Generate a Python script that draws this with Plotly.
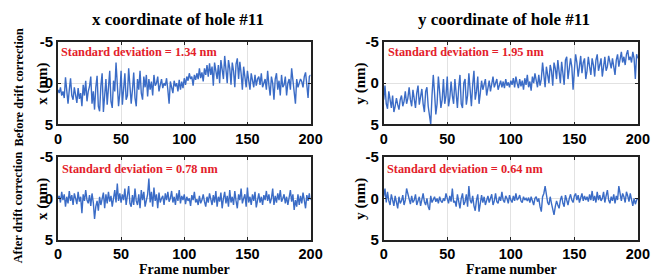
import plotly.graph_objects as go

frames = list(range(201))

x_before = [
 0.8, 1.2, 0.5, 1.5, 1.0, 1.8, -0.7, 1.2, 2.5, 0.8,
 -0.6, 1.5, 2.0, 0.5, 1.8, 2.4, 0.6, 1.9, 1.2, 2.8,
 0.2, 1.5, -0.3, 2.2, 1.0, 0.4, -0.8, 2.5, 1.0, 3.2,
 0.5, -0.9, 2.8, 3.4, 0.3, -1.2, 3.5, 1.8, -0.5, 2.6,
 0.8, -1.5, 2.2, 3.0, -0.3, 1.0, -2.5, 0.2, 2.8, 1.2,
 -1.5, 2.6, 0.5, -1.2, 2.0, 1.5, -1.8, 0.3, 2.5, 0.8,
 -1.3, 1.8, 2.8, -0.5, 0.8, -1.5, 1.2, 2.0, -0.8, 0.5,
 -1.0, 1.6, -0.5, 0.8, -0.2, 1.5, -1.0, 0.3, 0.0, -0.8,
 1.0, 0.2, -0.5, 0.6, 0.0, 0.3, -0.6, 0.8, 2.5, -0.2,
 0.5, 1.2, -0.3, 0.4, 0.0, 1.0, -0.4, 0.8, -0.2, 0.6,
 -0.6, 0.2, -0.8, -0.3, -1.2, -0.5, -0.8, 0.3, -1.0, -0.4,
 -1.2, -0.5, -1.8, -0.6, -1.3, -0.2, -1.8, -1.0, -2.2, -0.8,
 -2.4, -1.0, -2.0, 0.3, -2.5, -1.5, -0.5, -2.2, 0.0, -2.8,
 -1.5, -0.5, -3.3, -1.0, 0.0, -2.8, -1.8, 0.2, -2.5, -1.5,
 0.5, -2.3, -3.0, -0.5, -2.6, -1.2, 0.8, -2.0, -0.8, 0.5,
 -1.5, -0.2, 0.8, -1.2, -0.3, 0.5, -1.0, 0.3, -0.5, -0.8,
 0.2, -1.2, 0.5, 0.0, -0.5, 0.8, -1.5, 0.2, 1.5, -0.8,
 0.0, 2.0, -0.5, -1.2, 0.8, -0.3, 1.5, -1.0, 0.5, 0.2,
 -0.8, 1.5, 0.0, -0.5, 0.8, -1.8, -0.2, 1.2, 2.5, -0.5,
 0.5, 0.0, -0.5, -0.2, 0.5, -0.8, -1.3, 0.2, 1.8, -0.8,
 -1.0]

y_before = [
 2.0, 0.3, 2.5, 3.1, 1.0, 2.2, 3.0, 1.5, 3.5, 2.8,
 1.8, 2.6, 3.2, 2.0, 1.5, 2.8, 2.2, 1.0, 2.5, 1.8,
 0.5, 2.0, 2.8, 0.8, 2.2, 3.0, 1.2, 0.3, 2.6, 1.8,
 0.7, 2.5, 3.5, 1.0, 0.5, 2.8, 3.8, 5.0, 1.5, -1.0,
 1.2, 3.8, 2.5, -0.8, 1.0, 3.0, 2.0, -0.5, 2.5, 1.5,
 -0.8, 2.8, 1.8, -0.2, 1.5, 2.5, -0.5, 1.0, 3.0, 0.5,
 -1.0, 2.5, 3.0, 0.0, -0.5, 2.6, 1.5, -1.2, 1.0, 2.8,
 0.2, -1.5, 2.0, 1.0, -0.8, 2.5, 1.2, -0.3, 0.8, 0.2,
 -0.5, 1.5, 0.5, -0.3, 1.0, 0.2, -0.8, 0.5, 0.0, -0.5,
 0.8, 0.2, -0.3, 0.5, -0.2, 0.6, -0.5, 0.3, -0.1, 0.5,
 -0.3, 0.2, -0.6, 0.5, -0.8, 0.0, 0.6, -0.5, 0.4, -0.3,
 0.8, -0.6, 0.2, -1.0, 0.5, -0.2, 0.9, -0.8, 0.0, -1.2,
 -0.5, 0.5, -1.0, 0.3, -0.5, -2.5, -1.0, 0.5, -2.0, -1.2,
 0.0, -2.2, -1.5, 0.3, -2.5, -1.8, -0.5, -2.8, -1.2, 0.0,
 -2.6, -1.5, 0.2, -2.8, -3.2, -0.5, -1.5, -3.0, -2.0, 0.8,
 -1.5, -3.5, -2.5, -0.8, -2.0, -3.3, -1.2, -2.5, -3.0, -0.5,
 -1.5, -3.2, -2.0, -1.0, -3.0, -2.2, -0.8, -2.8, -3.5, -1.5,
 -2.2, -3.0, -0.8, -2.5, -3.2, -1.5, -2.0, -3.3, -2.5, -1.8,
 -3.0, -2.2, -1.0, -2.8, -3.5, -2.0, -3.0, -3.8, -2.5, -3.2,
 -2.2, -3.5, -4.0, -2.8, -3.2, -2.5, -3.8, -3.0, -0.5, -3.5,
 -3.0]

x_after = [
 0.0, -0.3, 0.5, -0.8, 0.2, -0.5, 1.0, -0.2, 0.6, -0.9,
 0.3, -0.4, 0.8, -0.6, 0.0, 0.7, -0.8, 0.4, -0.2, 1.8,
 -0.5, 0.3, -1.0, 0.2, 0.6, -0.4, 0.9, -0.6, 0.5, 2.5,
 1.0, 0.3, 1.5, -0.2, 0.8, 0.0, -0.7, 1.2, -0.5, 0.6,
 -0.8, 0.4, -0.3, 1.0, 0.2, -1.0, 0.5, -1.8, 0.3, -0.6,
 0.5, -0.5, 0.2, -1.2, 0.8, -0.2, -1.5, 0.6, 1.0, -0.4,
 0.8, -1.2, 0.3, 0.8, -0.5, 1.2, -1.0, 0.2, -0.8, 1.0,
 0.0, -0.5, -2.4, 0.5, -0.8, 1.0, -1.3, 0.3, -0.5, 1.2,
 -0.7, 0.5, 0.0, -0.3, 0.8, -0.6, 0.2, -0.8, 0.4, 0.0,
 -0.9, 0.5, -0.2, 0.8, -0.6, 0.3, -1.0, 0.6, -0.3, 0.2,
 -0.5, 0.7, -0.2, 0.3, 0.0, 0.9, -0.4, 0.2, -0.8, 0.5,
 0.1, 0.8, -0.3, 0.6, 0.2, -0.5, 0.4, 1.0, -0.2, 0.5,
 -0.6, 0.3, 0.8, -0.4, 0.5, -0.9, 1.0, -0.2, 0.4, -0.7,
 1.2, 0.0, -0.8, 0.6, -0.3, 1.0, -1.0, 0.5, -0.2, 0.8,
 -0.9, 0.3, 1.2, -0.5, 0.2, -1.2, 0.6, 0.0, -0.5, 1.0,
 -1.3, 0.5, -0.2, 0.8, -0.5, 0.3, -0.8, 1.1, 0.0, -0.6,
 0.5, -0.2, 0.8, -0.4, 0.2, -0.9, 0.3, -0.5, 0.6, 0.0,
 -1.2, 0.8, -0.3, 0.5, -0.6, 0.2, -1.0, 0.4, 0.0, -0.5,
 0.6, -0.2, 0.8, -0.3, -1.0, 0.4, -0.5, 1.4, 0.2, 1.0,
 -0.5, 0.8, -0.3, 0.6, -0.7, 0.2, 1.2, -0.4, 0.3, -0.6,
 0.2]

y_after = [
 -0.2, -1.2, 0.5, -0.8, 0.3, 0.8, -0.5, 0.2, 0.9, -0.3,
 0.5, 1.2, -0.2, 0.6, 0.3, -0.4, 0.8, 0.2, -1.2, -0.5,
 0.0, 0.7, -0.3, 0.5, 0.2, -0.5, 0.8, 0.3, -0.2, 0.9,
 0.0, -0.6, 0.4, 0.8, 0.0, 1.0, 1.4, -0.3, 0.5, 0.2,
 -0.2, 0.4, 0.0, 0.6, -0.2, 0.3, 0.5, 0.0, 0.3, -0.6,
 0.2, 0.6, -0.3, 0.4, -1.2, 0.5, 0.3, 1.0, -0.5, 0.4,
 1.2, 0.0, -0.6, 0.8, 0.4, -0.5, 1.0, -1.5, 0.2, 0.6,
 -0.3, 0.9, 1.5, 0.2, -0.5, 1.6, 0.4, -0.4, 0.5, -0.2,
 0.8, 0.2, -0.3, 0.5, 0.0, -0.5, 0.8, 0.3, -0.6, 0.4,
 0.6, -0.2, 0.3, -0.8, 0.2, 0.5, -0.3, 0.0, 0.6, -0.4,
 0.2, 0.5, -0.3, 0.3, -0.6, 0.2, 0.0, -0.4, 0.3, 0.5,
 -0.2, 0.2, 0.0, 0.3, -0.1, 0.5, -0.2, 0.3, 0.8, 0.0,
 -0.2, 0.4, 0.0, 1.0, 1.6, -0.2, -0.6, -1.5, -0.3, 0.5,
 0.8, -0.2, 0.6, 1.2, 2.0, 1.0, 0.3, 0.8, 1.2, 0.2,
 -0.3, 0.6, 1.0, -0.4, 0.3, 0.8, 0.0, -0.5, 0.2, 0.5,
 -0.3, -0.6, 0.2, -0.4, 0.5, -0.2, -0.6, 0.3, -0.3, 0.2,
 -0.2, 0.4, -0.5, 0.2, -0.9, 0.3, -0.3, 0.5, -0.8, 0.2,
 -0.4, 0.3, 0.0, -0.8, 0.5, -0.3, -1.0, 0.2, 0.6, -0.2,
 0.3, -0.5, 0.6, -0.3, 0.2, -1.5, -0.8, 0.3, -0.6, -0.2,
 0.5, -0.8, -0.3, 0.4, -0.6, 0.2, 0.9, 0.0, 0.7, 0.2,
 0.0]

col_titles = ["x coordinate of hole #11", "y coordinate of hole #11"]
std_labels = ["Standard deviation = 1.34 nm", "Standard deviation = 1.95 nm",
              "Standard deviation = 0.78 nm", "Standard deviation = 0.64 nm"]
row_labels = ["Before drift correction", "After drift correction"]
axis_units = ["x (nm)", "y (nm)"]
x_ticks = [0, 50, 100, 150, 200]
y_ticks = [-5, 0, 5]

SERIF = "Liberation Serif"
SANS = "Liberation Sans"
LINE = "#3b6cc6"

# measured relation between figure pixels and the photographed picture
AX, BX = 0.981, 2.8
AY, BY = 0.935, 8.8
W, H = 664, 288


def fx(t):  # target picture x -> paper x
    return ((t - BX) / AX) / W


def fy(t):  # target picture y -> paper y
    return 1 - ((t - BY) / AY) / H


xdom = [[fx(57), fx(311)], [fx(384.5), fx(640)]]
ydom = [[fy(123.5), fy(41.5)], [fy(238), fy(156)]]
std_pos = [(58.5, 51.5), (386.5, 51.5), (59, 167.3), (386, 167.3)]
unit_x = [41.5, 361]
title_pos = [(177.5, 19), (505.5, 19)]
frame_pos = [(184, 268), (513, 268)]
row_pos = [86, 206]

series = [[x_before, y_before], [x_after, y_after]]

fig = go.Figure()
annotations = []
k = 0
for r in range(2):
    for c in range(2):
        k += 1
        xa = "x" if k == 1 else f"x{k}"
        ya = "y" if k == 1 else f"y{k}"
        fig.add_trace(go.Scatter(x=frames, y=series[r][c], mode="lines",
                                 line=dict(color=LINE, width=1.4),
                                 xaxis=xa, yaxis=ya, showlegend=False,
                                 hoverinfo="skip"))
        axcommon = dict(showline=True, linecolor="#222222", linewidth=1.5,
                        mirror="ticks", ticks="inside", ticklen=3,
                        tickcolor="#222222", showgrid=True,
                        gridcolor="#e2e2e2", gridwidth=1, zeroline=False)
        fig.layout[f"xaxis{'' if k == 1 else k}"] = dict(
            axcommon, domain=xdom[c], anchor=ya, range=[0, 200],
            tickvals=x_ticks, ticktext=[str(v) for v in x_ticks],
            tickfont=dict(family=SANS, size=14.5, color="black",
                          weight="bold"))
        fig.layout[f"yaxis{'' if k == 1 else k}"] = dict(
            axcommon, domain=ydom[r], anchor=xa, range=[5, -5],
            tickvals=y_ticks, ticktext=[str(v) for v in y_ticks],
            tickfont=dict(family=SANS, size=15, color="black",
                          weight="bold"))
        sx, sy = std_pos[k - 1]
        annotations.append(dict(
            text=std_labels[k - 1], xref="paper", yref="paper",
            x=fx(sx), y=fy(sy), xanchor="left", yanchor="middle",
            showarrow=False,
            font=dict(family=SERIF, size=12.3, color="#e3202a", weight="bold")))
        annotations.append(dict(
            text=axis_units[c], xref="paper", yref="paper",
            x=fx(unit_x[c]), y=(ydom[r][0] + ydom[r][1]) / 2,
            xanchor="center", yanchor="middle",
            textangle=-90, showarrow=False,
            font=dict(family=SERIF, size=15, color="black", weight="bold")))
    annotations.append(dict(
        text=row_labels[r], xref="paper", yref="paper",
        x=fx(17.7), y=fy(row_pos[r]),
        xanchor="center", yanchor="middle",
        textangle=-90, showarrow=False,
        font=dict(family=SERIF, size=12.3, color="black", weight="bold")))

for c in range(2):
    tx, ty = title_pos[c]
    annotations.append(dict(
        text=col_titles[c], xref="paper", yref="paper",
        x=fx(tx), y=fy(ty), xanchor="center", yanchor="middle",
        showarrow=False,
        font=dict(family=SERIF, size=17, color="black", weight="bold")))
    gx, gy = frame_pos[c]
    annotations.append(dict(
        text="Frame number", xref="paper", yref="paper",
        x=fx(gx), y=fy(gy), xanchor="center", yanchor="middle",
        showarrow=False,
        font=dict(family=SERIF, size=14, color="black", weight="bold")))

fig.update_layout(width=W, height=H, margin=dict(l=0, r=0, t=0, b=0),
                  paper_bgcolor="white", plot_bgcolor="white",
                  annotations=annotations)

fig.write_html("out.html", config={"displayModeBar": False},
               post_script="document.body.style.margin='0';"
                           "document.body.style.overflow='hidden';")
